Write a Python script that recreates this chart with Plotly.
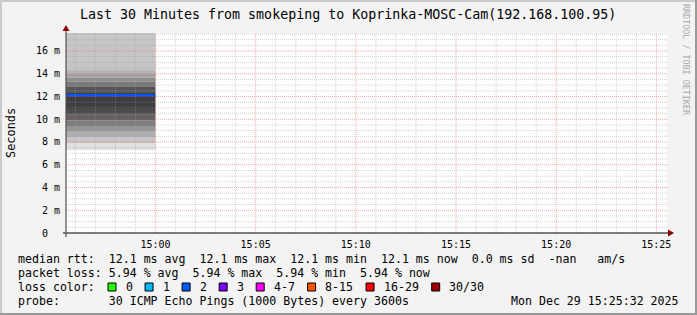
import plotly.graph_objects as go
import datetime as dt

# ---------------- data ----------------
day = "2025-12-29"
view_start = "2025-12-29 14:55:32"
view_end = "2025-12-29 15:25:32"
sample_start = "2025-12-29 14:00:00"   # one probe round (every 3600 s)
sample_end = "2025-12-29 15:00:00"
median_rtt_ms = 12.1
y_max_ms = 17.58

# smoke bands (ms), low -> high edges
smoke_edges_ms = [7.30, 7.90, 8.40, 8.90, 9.40, 9.90, 10.40, 10.90,
                  12.30, 12.90, 13.30, 13.65, 14.05, 14.40, 17.58]

y_tick_vals = [0, 2, 4, 6, 8, 10, 12, 14, 16]
y_tick_text = ["0\u00a0\u00a0", "2 m", "4 m", "6 m", "8 m", "10 m", "12 m", "14 m", "16 m"]
x_tick_labels = ["15:00", "15:05", "15:10", "15:15", "15:20", "15:25"]

title_text = "Last 30 Minutes from smokeping to Koprinka-MOSC-Cam(192.168.100.95)"
legend_rtt = "median rtt:  12.1 ms avg  12.1 ms max  12.1 ms min  12.1 ms now  0.0 ms sd  -nan   am/s"
legend_loss = "packet loss: 5.94 % avg  5.94 % max  5.94 % min  5.94 % now"
legend_losscolor = "loss color:"
legend_probe = "probe:       30 ICMP Echo Pings (1000 Bytes) every 3600s"
legend_date = "Mon Dec 29 15:25:32 2025"
loss_labels = ["0", "1", "2", "3", "4-7", "8-15", "16-29", "30/30"]

# ---------------- style ----------------
smoke_grays = ["#e0e0e0", "#c6c6c6", "#aeaeae", "#959595", "#7c7c7c", "#626262",
               "#4c4c4c", "#3e3e3e", "#565656", "#777777", "#8c8c8c", "#a2a2a2",
               "#b4b4b4", "#c6c6c6"]
loss_colors = ["#26ff00", "#00b8ff", "#0059ff", "#7e00ff", "#ff00ff", "#ff5500", "#ff0000", "#a00000"]
median_color = "#0059ff"
MONO = "DejaVu Sans Mono"
LEG_SIZE = 11.6

FIG_W, FIG_H = 697, 315
L, T, W, H = 66, 33, 601, 200


def px(xp):
    return (xp - L) / W


def py(yp):
    return (T + H - yp) / H


fig = go.Figure()

# smoke
xs = [sample_start, sample_end]
fig.add_trace(go.Scatter(x=xs, y=[smoke_edges_ms[0]] * 2, mode="lines",
                         line=dict(width=0), hoverinfo="skip", showlegend=False))
for i in range(1, len(smoke_edges_ms)):
    fig.add_trace(go.Scatter(x=xs, y=[smoke_edges_ms[i]] * 2, mode="lines",
                             line=dict(width=0), fill="tonexty",
                             fillcolor=smoke_grays[i - 1], hoverinfo="skip", showlegend=False))

# median line
fig.add_trace(go.Scatter(x=xs, y=[median_rtt_ms] * 2, mode="lines",
                         line=dict(color=median_color, width=2.5), showlegend=False))

shapes = []
# grid (drawn above traces, as rrdtool does)
minor_grid = "rgba(160,160,160,0.45)"
major_grid = "rgba(240,70,70,0.45)"
t = dt.datetime(2025, 12, 29, 14, 56)
t_end = dt.datetime(2025, 12, 29, 15, 25, 32)
while t <= t_end:
    major = t.minute % 5 == 0
    shapes.append(dict(type="line", xref="x", yref="paper", x0=t, x1=t, y0=0, y1=1,
                       layer="above",
                       line=dict(color=major_grid if major else minor_grid, width=1, dash="1px,1px")))
    t += dt.timedelta(minutes=1)
v = 0.5
while v <= y_max_ms:
    major = abs(v / 2 - round(v / 2)) < 1e-9
    shapes.append(dict(type="line", xref="paper", yref="y", x0=0, x1=1, y0=v, y1=v,
                       layer="above",
                       line=dict(color=major_grid if major else minor_grid, width=1, dash="1px,1px")))
    v += 0.5

# axes lines and arrows
shapes.append(dict(type="line", xref="paper", yref="paper", x0=px(63), x1=px(668), y0=py(233), y1=py(233),
                   line=dict(color="#000000", width=1)))
shapes.append(dict(type="line", xref="paper", yref="paper", x0=px(66), x1=px(66), y0=py(237), y1=py(30),
                   line=dict(color="#505050", width=1.2)))
arrow_col = "#8b0000"
shapes.append(dict(type="path", xref="paper", yref="paper",
                   path=f"M {px(668)} {py(229.5)} L {px(674)} {py(233)} L {px(668)} {py(236.5)} Z",
                   fillcolor=arrow_col, line=dict(width=0)))
shapes.append(dict(type="path", xref="paper", yref="paper",
                   path=f"M {px(62.5)} {py(31)} L {px(66)} {py(25)} L {px(69.5)} {py(31)} Z",
                   fillcolor=arrow_col, line=dict(width=0)))

# frame (rrdtool shade)
shapes.append(dict(type="rect", xref="paper", yref="paper", x0=px(0), x1=px(2), y0=py(FIG_H), y1=py(0),
                   fillcolor="#cbcbcb", line=dict(width=0)))
shapes.append(dict(type="rect", xref="paper", yref="paper", x0=px(0), x1=px(FIG_W), y0=py(2), y1=py(0),
                   fillcolor="#cbcbcb", line=dict(width=0)))
shapes.append(dict(type="rect", xref="paper", yref="paper", x0=px(FIG_W - 2), x1=px(FIG_W), y0=py(FIG_H), y1=py(0),
                   fillcolor="#999999", line=dict(width=0)))
shapes.append(dict(type="rect", xref="paper", yref="paper", x0=px(0), x1=px(FIG_W), y0=py(FIG_H), y1=py(FIG_H - 2),
                   fillcolor="#999999", line=dict(width=0)))

annotations = []


def txt(x, y, s, size, anchor="left", color="#000000", angle=0):
    annotations.append(dict(x=px(x), y=py(y), xref="paper", yref="paper", text=s, showarrow=False,
                            xanchor=anchor, yanchor="middle", textangle=angle,
                            font=dict(family=MONO, size=size, color=color)))


txt(348, 14, title_text, 13.3, anchor="center")
txt(11, 133, "Seconds", 11.9, anchor="center", angle=-90)
txt(686, 60, "RRDTOOL / TOBI OETIKER", 8.4, anchor="center", color="#a8a8a8", angle=90)
txt(16, 259, legend_rtt.replace(" ", "\u00a0"), LEG_SIZE)
txt(16, 273, legend_loss.replace(" ", "\u00a0"), LEG_SIZE)
txt(16, 287, legend_losscolor.replace(" ", "\u00a0"), LEG_SIZE)
txt(16, 301, legend_probe.replace(" ", "\u00a0"), LEG_SIZE)
txt(681, 301, legend_date.replace(" ", "\u00a0"), LEG_SIZE, anchor="right")

# loss colour boxes
cw = 7.15
s = 108.0
for lab, col in zip(loss_labels, loss_colors):
    shapes.append(dict(type="rect", xref="paper", yref="paper", x0=px(s), x1=px(s + 8), y0=py(291), y1=py(283),
                       fillcolor=col, line=dict(color="#000000", width=1)))
    txt(s + 15.5, 287, lab, LEG_SIZE)
    s += 29.9 + len(lab) * cw

fig.update_layout(
    width=FIG_W, height=FIG_H,
    margin=dict(l=L, r=FIG_W - L - W, t=T, b=FIG_H - T - H, pad=0),
    paper_bgcolor="#f3f3f3", plot_bgcolor="#ffffff",
    showlegend=False,
    shapes=shapes, annotations=annotations,
    xaxis=dict(type="date", range=[view_start, view_end], showgrid=False, zeroline=False,
               tickvals=[f"{day} {lab}:00" for lab in x_tick_labels], ticktext=x_tick_labels,
               ticks="outside", ticklen=2, tickcolor="rgba(0,0,0,0)",
               tickfont=dict(family=MONO, size=10, color="#000000")),
    yaxis=dict(range=[0, y_max_ms], showgrid=False, zeroline=False,
               tickvals=y_tick_vals, ticktext=y_tick_text,
               ticks="outside", ticklen=3, tickcolor="rgba(0,0,0,0)",
               tickfont=dict(family=MONO, size=10, color="#000000")),
)

fig.write_html("out.html")
